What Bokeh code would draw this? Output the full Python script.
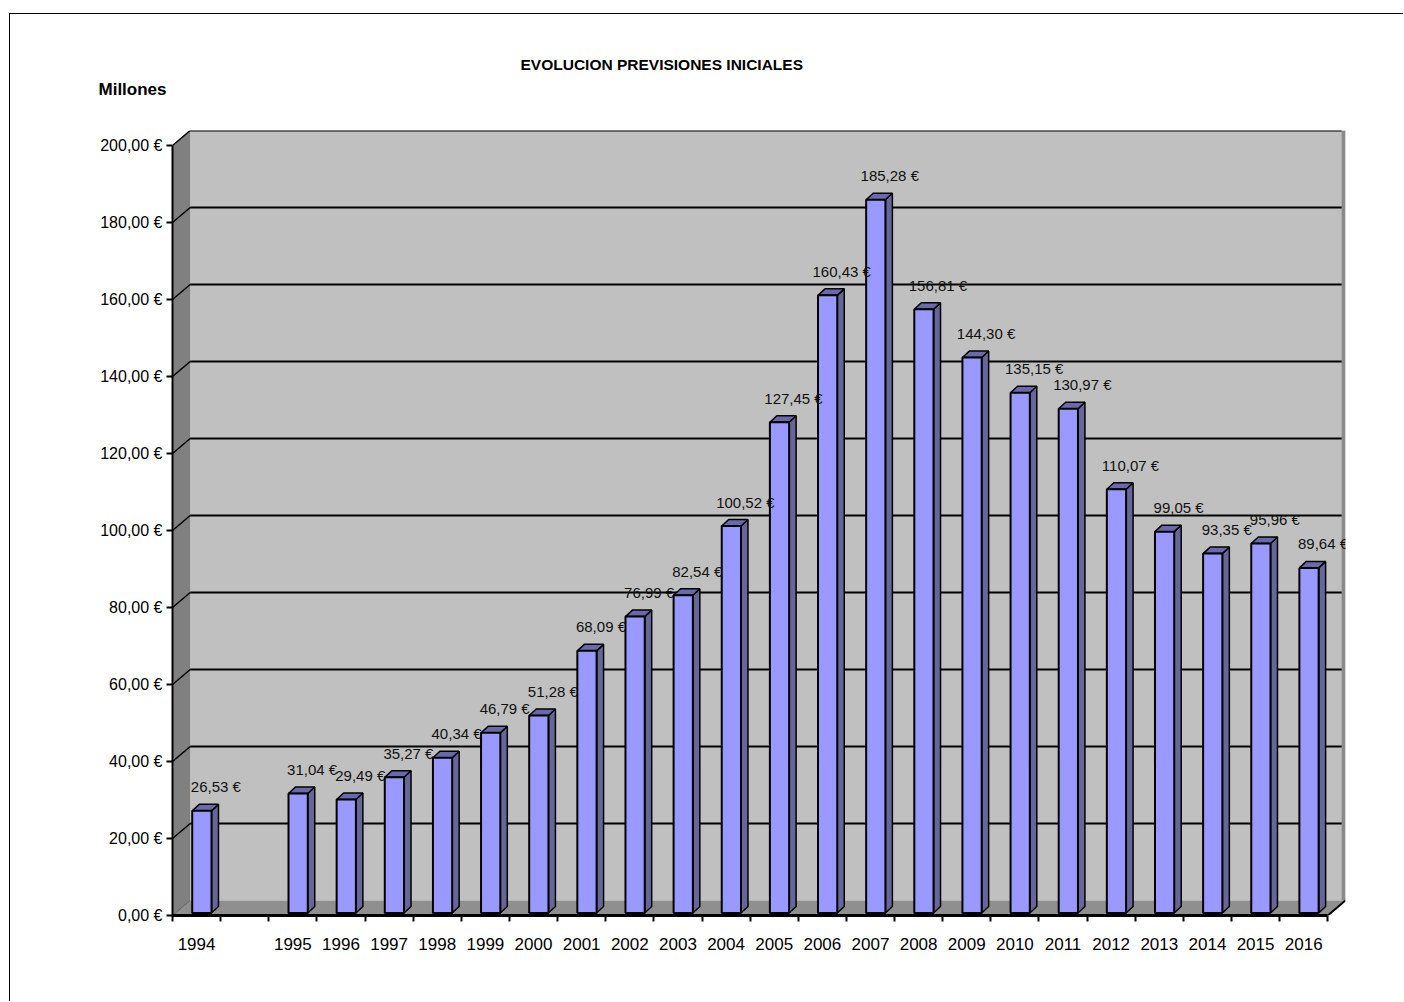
from bokeh.plotting import figure
from bokeh.models import Range1d, FixedTicker, Title, ColumnDataSource
from bokeh.embed import file_html
from bokeh.resources import INLINE
from bokeh.core.properties import value

years = ["1994", "", "1995", "1996", "1997", "1998", "1999", "2000", "2001", "2002",
         "2003", "2004", "2005", "2006", "2007", "2008", "2009", "2010", "2011",
         "2012", "2013", "2014", "2015", "2016"]
values = [26.53, None, 31.04, 29.49, 35.27, 40.34, 46.79, 51.28, 68.09, 76.99,
          82.54, 100.52, 127.45, 160.43, 185.28, 156.81, 144.30, 135.15, 130.97,
          110.07, 99.05, 93.35, 95.96, 89.64]
y_ticks = [0, 20, 40, 60, 80, 100, 120, 140, 160, 180, 200]

title_text = "EVOLUCION  PREVISIONES  INICIALES"
unit_text = "Millones"

FONT = "Liberation Sans"

n = len(years)
DX = 0.368   # depth of walls in category units
DY = 3.9     # depth of walls in value units
BOX = 0.11   # bar shift (depth position)
BOY = 0.65
HW = 0.2     # half width of bar front
BDX = 0.145  # bar depth x
BDY = 1.69   # bar depth y
YMAX = 200

p = figure(width=1394, height=988, output_backend="svg", toolbar_location=None,
           x_range=Range1d(0, n + DX), y_range=Range1d(0, YMAX + DY),
           min_border_left=162, min_border_right=59, min_border_top=116,
           min_border_bottom=87)
p.styles = {"border-top": "1px solid black", "border-left": "1px solid black",
            "margin-left": "9px", "margin-top": "13px"}
p.background_fill_color = None
p.border_fill_color = "white"
p.outline_line_color = None
p.grid.visible = False

p.title = Title(text=title_text, align="left", offset=348, standoff=-54,
                text_font=FONT, text_font_style="bold", text_font_size="15.5px",
                text_color="black")
p.add_layout(Title(text=unit_text, align="left", offset=-74, standoff=64,
                   text_font=FONT, text_font_style="bold", text_font_size="17px",
                   text_color="black"), "above")

# back wall
p.quad(left=DX, right=n + DX, bottom=DY, top=YMAX + DY,
       fill_color="#C0C0C0", line_color=None)
# right edge shading of back wall
p.quad(left=n + DX - 0.08, right=n + DX, bottom=DY, top=YMAX + DY,
       fill_color="#8A8A8A", line_color=None)
# left wall
p.patch([0, DX, DX, 0], [0, DY, YMAX + DY, YMAX], fill_color="#808080",
        line_color=None)
# floor
p.patch([0, n, n + DX, DX], [0, 0, DY, DY], fill_color="#8F8F8F",
        line_color=None)

# gridlines on back wall and left wall
gl = [t for t in y_ticks if t > 0]
p.segment(x0=[DX] * len(gl), y0=[t + DY for t in gl], x1=[n + DX - 0.08] * len(gl),
          y1=[t + DY for t in gl], line_color="black", line_width=2)
p.segment(x0=[0] * len(gl), y0=gl, x1=[DX] * len(gl), y1=[t + DY for t in gl],
          line_color="black", line_width=1.5)
# floor edges
p.segment(x0=[n], y0=[0], x1=[n + DX], y1=[DY], line_color="black", line_width=2)
p.segment(x0=[0], y0=[0], x1=[DX], y1=[DY], line_color="#606060", line_width=1)

# bars
xs_s, ys_s, xs_t, ys_t = [], [], [], []
bl, br, bb, bt = [], [], [], []
lx, ly, lt = [], [], []
for i, v in enumerate(values):
    if v is None:
        continue
    c = i + 0.5 + BOX
    l, r, b, t = c - HW, c + HW, BOY, v + BOY
    bl.append(l); br.append(r); bb.append(b); bt.append(t)
    xs_s.append([r, r + BDX, r + BDX, r])
    ys_s.append([b, b + BDY, t + BDY, t])
    xs_t.append([l, r, r + BDX, l + BDX])
    ys_t.append([t, t, t + BDY, t + BDY])
    lx.append(c)
    ly.append(t)
    lt.append(f"{v:.2f}".replace(".", ",") + " €")

p.patches(xs_s, ys_s, fill_color="#666699", line_color="black", line_width=1.5)
p.patches(xs_t, ys_t, fill_color="#6A6AAA", line_color="black", line_width=1.5)
p.quad(left=bl, right=br, bottom=bb, top=bt, fill_color="#9999FF",
       line_color="black", line_width=2)

src = ColumnDataSource(dict(x=lx, y=ly, t=lt))
p.text(x="x", y="y", text="t", source=src, x_offset=14, y_offset=-24,
       text_align="center", text_baseline="middle", text_font=value(FONT),
       text_font_size="15px", text_color="#111111")

# axes
ya = p.yaxis[0]
ya.ticker = FixedTicker(ticks=y_ticks)
ya.bounds = (0, YMAX)
ya.major_label_overrides = {t: f"{t:.2f}".replace(".", ",") + " €" for t in y_ticks}
ya.major_label_text_font = FONT
ya.major_label_text_font_size = "16px"
ya.major_label_text_color = "black"
ya.major_tick_out = 6
ya.major_tick_in = 0
ya.minor_tick_out = 0
ya.minor_tick_in = 0
ya.axis_line_width = 2
ya.major_tick_line_width = 2
ya.major_label_standoff = 4

xa = p.xaxis[0]
centers = [i + 0.5 for i in range(n)]
xa.ticker = FixedTicker(ticks=centers, minor_ticks=list(range(n + 1)))
xa.bounds = (0, n)
xa.major_label_overrides = {i + 0.5: y for i, y in enumerate(years)}
xa.major_label_text_font = FONT
xa.major_label_text_font_size = "17px"
xa.major_label_text_color = "black"
xa.major_tick_out = 0
xa.major_tick_in = 0
xa.minor_tick_out = 6
xa.minor_tick_in = 0
xa.minor_tick_line_color = "black"
xa.minor_tick_line_width = 2
xa.axis_line_width = 3
xa.major_label_standoff = 16

out = file_html(p, INLINE)
open("out.html", "w").write(out)
